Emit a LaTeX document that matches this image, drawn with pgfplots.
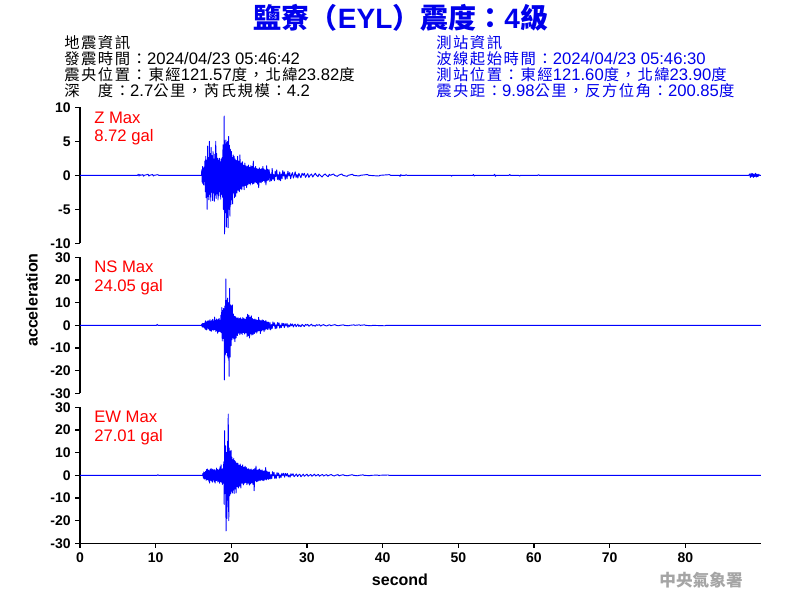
\documentclass[border=0pt]{standalone}
\usepackage{fontspec}
\setmainfont{Liberation Sans}
\newfontfamily\cjk{Noto Sans CJK TC}
\newfontfamily\cjkh[LetterSpace=10]{Noto Sans CJK TC}
\newcommand{\cj}[1]{{\cjkh\fontsize{11.5}{11.5}\selectfont #1}}
\usepackage{pgfplots}
\pgfplotsset{compat=1.18}
\definecolor{trace}{RGB}{0,0,255}
\definecolor{lab}{RGB}{255,0,0}
\definecolor{ttl}{RGB}{0,0,235}
\definecolor{wm}{RGB}{165,165,165}
\pgfplotsset{
  seis/.style={
    scale only axis, width=510.75pt, height=102pt,
    xmin=0, xmax=90,
    axis y line*=left,
    tick align=outside,
    major tick length=3.5pt,
    every tick/.style={black, line width=1pt},
    axis line style={black, line width=1.2pt},
    tick label style={font=\bfseries\fontsize{10.5}{10.5}\selectfont},
    clip=true,
  },
  tr/.style={trace, line width=0.7pt, line join=round},
}
\begin{document}
\begin{tikzpicture}
\path[use as bounding box] (0,0) rectangle (600pt,450pt);

% ---------- Z ----------
\begin{axis}[seis, at={(60pt,267.5pt)}, anchor=south west,
  axis x line=none, xtick=\empty,
  ymin=-10, ymax=10, ytick={-10,-5,0,5,10}, yticklabels={-10,-5,0,5,10}]
\addplot[tr] coordinates {
(0,0) (7.6,0) (7.7,0.15) (7.8,-0.1) (7.9,0.12) (8.0,0) (8.3,0.1) (8.4,-0.12) (8.5,0)
(9.0,0.15) (9.1,-0.1) (9.2,0) (9.6,0.12) (9.7,-0.1) (9.8,0) (10.3,0.1) (10.4,0) (16.05,0)
(16.10,0.8) (16.15,-1.0) (16.20,1.3) (16.25,-1.2) (16.30,1.0) (16.35,-1.4) (16.40,1.2) (16.45,-0.9)
(16.50,2.1) (16.56,-2.4) (16.62,2.8) (16.68,-3.3) (16.74,2.2) (16.80,-5.0) (16.86,4.3) (16.92,-3.1)
(16.98,2.6) (17.04,-3.6) (17.10,5.0) (17.16,-2.8) (17.22,3.2) (17.28,-3.8) (17.34,4.1) (17.40,-2.5)
(17.46,2.9) (17.52,-3.7) (17.58,3.5) (17.64,-2.6) (17.70,2.4) (17.76,-3.8) (17.82,3.1) (17.88,-2.9)
(17.94,5.0) (18.00,-3.4) (18.06,3.2) (18.12,-2.7) (18.18,2.5) (18.24,-3.6) (18.30,2.2) (18.36,-3.0)
(18.42,2.5) (18.48,-2.4) (18.54,2.0) (18.60,-3.5) (18.66,2.4) (18.72,-2.8) (18.78,2.6) (18.84,-3.2)
(18.90,4.5) (18.96,-5.0) (19.02,3.0) (19.06,8.72) (19.10,-8.6) (19.16,4.6) (19.22,-5.5) (19.28,5.2)
(19.34,-7.6) (19.40,4.8) (19.46,-6.2) (19.52,5.0) (19.58,-7.7) (19.64,5.7) (19.70,-5.0) (19.76,4.4)
(19.82,-6.0) (19.88,3.8) (19.94,-4.3) (20.00,3.5) (20.06,-3.6) (20.12,2.6) (20.18,-4.2) (20.24,3.0)
(20.30,-2.5) (20.36,2.8) (20.42,-3.3) (20.50,2.4) (20.58,-3.1) (20.66,2.2) (20.74,-2.6) (20.82,2.8)
(20.90,-2.2) (20.98,2.1) (21.06,-2.4) (21.14,3.0) (21.22,-2.0) (21.30,1.8) (21.38,-2.1) (21.46,2.0)
(21.54,-1.6) (21.62,1.5) (21.70,-2.1) (21.78,1.8) (21.86,-1.5) (21.94,1.4) (22.02,-1.8) (22.10,1.3)
(22.18,-1.4) (22.26,1.5) (22.34,-1.2) (22.42,1.2) (22.50,-1.4) (22.58,1.4) (22.66,-1.1) (22.74,1.3)
(22.82,-1.3) (22.90,2.1) (22.98,-1.2) (23.06,1.1) (23.14,-1.0) (23.22,1.3) (23.30,-1.1) (23.38,1.0)
(23.46,-1.3) (23.54,0.9) (23.62,-1.8) (23.70,1.1) (23.78,-1.0) (23.86,0.9) (23.94,-1.1) (24.02,1.0)
(24.10,-0.9) (24.18,1.3) (24.26,-0.8) (24.34,0.9) (24.42,-1.0) (24.50,0.8) (24.58,-1.4) (24.66,1.4)
(24.74,-0.8) (24.82,0.9) (24.90,-0.7) (25.00,0.8) (25.10,-0.9) (25.20,0.2) (25.30,-0.8) (25.40,1.0)
(25.50,-0.6) (25.60,0.1) (25.70,-0.8) (25.80,0.6) (25.90,-0.2) (26.00,0.8) (26.10,-0.6) (26.20,0.1)
(26.30,-0.7) (26.40,0.5) (26.50,-0.8) (26.60,0.2) (26.70,-0.5) (26.80,0.7) (26.90,-0.1) (27.00,0.5)
(27.12,-0.6) (27.24,0.2) (27.36,-0.5) (27.48,0.6) (27.60,-0.1) (27.72,0.4) (27.84,-0.5) (27.96,0.1)
(28.08,0.4) (28.20,-0.4) (28.32,0) (28.44,0.5) (28.56,-0.3) (28.68,0.1) (28.80,-0.4) (28.92,0.3)
(29.04,0) (29.20,-0.35) (29.35,0.3) (29.50,0) (29.65,0.3) (29.80,-0.3) (29.95,0) (30.10,0.25)
(30.25,-0.3) (30.40,0) (30.60,0.2) (30.75,-0.25) (30.90,0) (31.10,0.3) (31.25,0) (31.45,-0.2)
(31.60,0.2) (31.75,0) (32.00,-0.25) (32.15,0) (32.40,0.2) (32.55,0) (32.80,-0.2) (32.95,0.15)
(33.10,0) (33.50,0.2) (33.65,0) (34.00,-0.15) (34.15,0) (34.60,0.2) (34.75,0) (35.30,-0.15)
(35.45,0) (36.00,0.15) (36.15,0) (36.90,-0.1) (37.05,0) (38.00,0.12) (38.15,0) (39.50,-0.1)
(39.65,0) (40.90,0.1) (41.05,0) (42.2,0) (42.3,-0.15) (42.4,0.1) (42.5,0) (43.0,0) (43.1,0.1) (43.2,0)
(49.0,0) (49.1,-0.12) (49.2,0) (51.9,0) (52.0,0.12) (52.1,-0.1) (52.2,0)
(54.7,0) (54.8,0.15) (54.9,-0.15) (55.0,0) (56.7,0) (56.8,0.12) (56.9,0) (58.0,0) (58.1,-0.1) (58.2,0)
(60.5,0) (60.6,0.1) (60.7,0) (88.4,0) (88.5,0.2) (88.6,-0.3) (88.7,0.3) (88.8,-0.2) (88.9,0.25)
(89.0,-0.3) (89.1,0.2) (89.2,-0.2) (89.3,0.3) (89.4,-0.25) (89.5,0.15) (89.6,-0.2) (89.7,0.15) (89.8,0) (90,0)
};
\end{axis}

% ---------- NS ----------
\begin{axis}[seis, at={(60pt,155pt)}, anchor=south west,
  axis x line=none, xtick=\empty,
  ymin=-30, ymax=30, ytick={-30,-20,-10,0,10,20,30}, yticklabels={-30,-20,-10,0,10,20,30}]
\addplot[tr] coordinates {
(0,0) (10.1,0) (10.2,0.4) (10.3,0) (16.05,0)
(16.10,0.6) (16.16,-0.8) (16.22,0.9) (16.28,-0.7) (16.34,0.8) (16.40,-0.9) (16.46,1.0) (16.52,-1.6)
(16.58,2.0) (16.64,-1.9) (16.70,1.5) (16.76,-2.0) (16.82,1.8) (16.88,-1.2) (16.94,2.0) (17.00,-1.6)
(17.06,1.9) (17.12,-2.1) (17.18,2.5) (17.24,-2.4) (17.30,1.8) (17.36,-2.6) (17.42,2.2) (17.48,-1.8)
(17.54,2.6) (17.60,-2.2) (17.66,1.9) (17.72,-2.0) (17.78,3.6) (17.84,-1.9) (17.90,2.1) (17.96,-2.7)
(18.02,2.8) (18.08,-2.3) (18.14,2.3) (18.20,-3.5) (18.26,2.6) (18.32,-2.8) (18.38,3.0) (18.44,-2.6)
(18.50,2.2) (18.56,-2.9) (18.62,4.5) (18.68,-3.2) (18.74,7.8) (18.80,-6.9) (18.86,6.5) (18.92,-5.8)
(18.98,7.4) (19.04,-7.0) (19.07,3.0) (19.09,-24.05) (19.14,8.5) (19.20,-13) (19.28,20.5) (19.34,-12)
(19.40,11) (19.46,-13.5) (19.52,12) (19.58,-14.4) (19.64,10) (19.70,-22.5) (19.78,16.3) (19.84,-14)
(19.90,9) (19.96,-9) (20.02,8.5) (20.08,-6.3) (20.14,9) (20.20,-5.5) (20.26,5) (20.32,-6)
(20.40,4) (20.48,-7.2) (20.56,3.8) (20.64,-5.5) (20.72,3.2) (20.80,-4.5) (20.88,3.4) (20.96,-3.5)
(21.04,3.0) (21.12,-4.1) (21.20,3.3) (21.28,-3.5) (21.36,2.8) (21.44,-4.0) (21.52,3.4) (21.60,-3.2)
(21.68,3.0) (21.76,-3.8) (21.84,2.6) (21.92,-3.3) (22.00,3.6) (22.08,-5.0) (22.16,4.9) (22.24,-4.5)
(22.32,4.4) (22.40,-5.6) (22.48,3.6) (22.56,-3.8) (22.64,4.2) (22.72,-4.3) (22.80,3.0) (22.88,-4.0)
(22.96,2.5) (23.04,-3.6) (23.12,2.8) (23.20,-3.0) (23.28,2.5) (23.36,-3.4) (23.44,2.2) (23.52,-2.6)
(23.60,3.5) (23.68,-2.4) (23.76,2.3) (23.84,-3.6) (23.92,2.0) (24.00,-2.5) (24.08,2.4) (24.16,-2.0)
(24.24,2.2) (24.32,-2.8) (24.40,1.8) (24.48,-2.0) (24.56,2.1) (24.64,-1.6) (24.72,1.5) (24.80,-1.8)
(24.90,1.4) (25.00,-1.7) (25.10,1.3) (25.20,-2.0) (25.30,0.3) (25.40,-1.4) (25.50,1.5) (25.60,-0.2)
(25.70,1.1) (25.80,-1.5) (25.90,0.2) (26.00,-1.3) (26.10,1.2) (26.20,-0.2) (26.30,1.1) (26.40,-1.2)
(26.50,0.1) (26.60,-1.0) (26.70,1.0) (26.80,-0.2) (26.90,0.8) (27.00,-1.0) (27.12,0.7) (27.24,-0.3)
(27.36,0.8) (27.48,-0.9) (27.60,0.2) (27.72,-0.6) (27.84,0.7) (27.96,-0.2) (28.08,0.6) (28.20,-0.7)
(28.32,0.1) (28.44,0.5) (28.56,-0.6) (28.68,0) (28.80,0.5) (28.92,-0.5) (29.05,0.1) (29.20,-0.6)
(29.35,0.4) (29.50,0) (29.65,-0.5) (29.80,0.4) (29.95,0) (30.10,0.4) (30.25,-0.4) (30.40,0)
(30.60,0.5) (30.75,-0.3) (30.90,0) (31.10,-0.4) (31.25,0.3) (31.40,0) (31.65,0.3) (31.80,-0.35)
(31.95,0) (32.20,0.3) (32.35,0) (32.60,-0.3) (32.75,0) (33.00,0.25) (33.15,-0.2) (33.30,0)
(33.70,0.3) (33.85,0) (34.20,-0.2) (34.35,0) (34.80,0.2) (34.95,0) (35.50,-0.2) (35.65,0)
(36.20,0.2) (36.35,0) (36.90,0.2) (37.05,0) (37.6,0.2) (37.75,0) (38.5,-0.2) (38.65,0)
(40.3,-0.2) (40.45,0) (90,0)
};
\end{axis}

% ---------- EW ----------
\begin{axis}[seis, at={(60pt,42.5pt)}, anchor=south west,
  axis x line*=bottom,
  xtick={0,10,20,30,40,50,60,70,80}, xticklabels={0,10,20,30,40,50,60,70,80},
  ymin=-30, ymax=30, ytick={-30,-20,-10,0,10,20,30}, yticklabels={-30,-20,-10,0,10,20,30}]
\addplot[tr] coordinates {
(0,0) (10.2,0) (10.3,0.3) (10.4,0) (16.2,0)
(16.25,0.8) (16.30,-1.2) (16.36,1.5) (16.42,-1.7) (16.48,1.2) (16.54,-1.4) (16.60,1.8) (16.66,-2.2)
(16.72,2.5) (16.78,-1.8) (16.84,2.8) (16.90,-2.0) (16.96,2.3) (17.02,-2.6) (17.08,2.0) (17.14,-3.4)
(17.20,2.6) (17.26,-2.2) (17.32,3.0) (17.38,-2.5) (17.44,2.4) (17.50,-3.0) (17.56,2.7) (17.62,-2.0)
(17.68,2.2) (17.74,-2.8) (17.80,2.5) (17.86,-3.4) (17.92,2.0) (17.98,-2.4) (18.04,3.2) (18.10,-2.2)
(18.16,2.6) (18.22,-3.0) (18.28,2.2) (18.34,-2.6) (18.40,2.8) (18.46,-3.5) (18.52,3.8) (18.58,-2.8)
(18.64,4.6) (18.70,-3.0) (18.76,2.6) (18.82,-4.0) (18.88,3.0) (18.94,-3.5) (19.00,6.0) (19.06,-12.8)
(19.12,19.7) (19.18,-8) (19.24,13) (19.30,-24.5) (19.36,10) (19.42,-19) (19.50,15) (19.55,-11)
(19.59,27.01) (19.66,-20) (19.72,12) (19.78,-9) (19.84,10.6) (19.90,-8.2) (19.96,11) (20.02,-7)
(20.08,8) (20.14,-7.8) (20.20,6.9) (20.26,-6.5) (20.32,7.5) (20.38,-8) (20.44,6.5) (20.50,-6)
(20.56,6.0) (20.62,-7.8) (20.70,5.3) (20.78,-5) (20.86,5.4) (20.94,-5.6) (21.02,4.5) (21.10,-4.8)
(21.18,5.0) (21.26,-5.6) (21.34,4.0) (21.42,-3.5) (21.50,4.6) (21.58,-4.2) (21.66,3.6) (21.74,-3.5)
(21.82,4.0) (21.90,-3.2) (21.98,3.4) (22.06,-4.1) (22.14,2.8) (22.22,-3.5) (22.30,3.0) (22.38,-4.3)
(22.46,2.5) (22.54,-3.8) (22.62,2.8) (22.70,-3.2) (22.78,2.4) (22.86,-4.0) (22.94,2.6) (23.02,-6.8)
(23.10,3.0) (23.18,-2.5) (23.26,4.1) (23.34,-2.8) (23.42,2.3) (23.50,-2.6) (23.58,2.5) (23.66,-2.2)
(23.74,2.8) (23.82,-2.4) (23.90,2.2) (23.98,-2.0) (24.06,2.4) (24.14,-2.2) (24.22,1.9) (24.30,-2.4)
(24.38,2.0) (24.46,-1.8) (24.54,3.4) (24.62,-2.0) (24.70,1.8) (24.78,-1.6) (24.86,1.5) (24.94,-1.8)
(25.04,1.4) (25.14,-1.6) (25.24,0.3) (25.34,-1.5) (25.44,1.6) (25.54,-0.2) (25.64,1.3) (25.74,-1.4)
(25.84,0.2) (25.94,-1.3) (26.04,1.2) (26.14,-0.1) (26.24,1.0) (26.34,-1.2) (26.44,0.2) (26.56,-1.0)
(26.68,0.9) (26.80,-0.1) (26.92,0.9) (27.04,-0.8) (27.16,0.8) (27.28,-0.2) (27.40,0.8) (27.52,-0.7)
(27.64,0.1) (27.76,-0.8) (27.88,0.7) (28.00,-0.1) (28.15,0.7) (28.30,-0.6) (28.45,0) (28.60,0.6)
(28.75,-0.5) (28.90,0.1) (29.05,0.5) (29.20,-0.6) (29.35,0) (29.50,0.5) (29.65,-0.4) (29.80,0)
(30.00,0.5) (30.15,-0.4) (30.30,0) (30.50,0.4) (30.65,-0.4) (30.80,0) (31.00,0.5) (31.15,-0.3)
(31.30,0) (31.50,0.4) (31.65,-0.4) (31.80,0) (32.05,0.4) (32.20,-0.3) (32.35,0) (32.60,0.3)
(32.75,-0.3) (32.90,0) (33.20,0.35) (33.35,0) (33.60,-0.3) (33.75,0) (34.10,0.3) (34.25,-0.25)
(34.40,0) (34.80,0.25) (34.95,0) (35.40,-0.2) (35.55,0) (36.00,0.25) (36.15,0) (36.70,-0.2)
(36.85,0) (37.40,0.2) (37.55,0) (38.30,-0.15) (38.45,0) (39.30,0.1) (39.45,0) (40.7,0.15) (40.85,0) (90,0)
};
\end{axis}

% ---------- texts ----------
\node[font=\bfseries\fontsize{21}{21}\selectfont, text=ttl] at (300.75pt,436.5pt)
  {{\cjk\bfseries 鹽寮（}EYL{\cjk\bfseries ）震度：}4{\cjk\bfseries 級}};

\begin{scope}[every node/.style={anchor=base west, inner sep=0pt, font=\fontsize{12.5}{12.5}\selectfont}]
\node at (48pt,413.5pt) {\cj{地震資訊}};
\node at (48pt,401.5pt) {\cj{發震時間：}2024/04/23 05:46:42};
\node at (48pt,389.5pt) {\cj{震央位置：東經}121.57\cj{度，北緯}23.82\cj{度}};
\node at (48pt,377.5pt) {\cj{深　度：}2.7\cj{公里，芮氏規模：}4.2};
\node[text=ttl] at (327pt,413.5pt) {\cj{測站資訊}};
\node[text=ttl] at (327pt,401.5pt) {\cj{波線起始時間：}2024/04/23 05:46:30};
\node[text=ttl] at (327pt,389.5pt) {\cj{測站位置：東經}121.60\cj{度，北緯}23.90\cj{度}};
\node[text=ttl] at (327pt,377.5pt) {\cj{震央距：}9.98\cj{公里，反方位角：}200.85\cj{度}};
\end{scope}

\begin{scope}[every node/.style={anchor=west, inner sep=0pt, text=lab, font=\fontsize{12.5}{12.5}\selectfont}]
\node at (70.5pt,361.5pt) {Z Max};
\node at (70.5pt,347.25pt) {8.72 gal};
\node at (70.5pt,249.75pt) {NS Max};
\node at (70.5pt,234.75pt) {24.05 gal};
\node at (70.5pt,137.25pt) {EW Max};
\node at (70.5pt,122.25pt) {27.01 gal};
\end{scope}

\node[rotate=90, font=\bfseries\fontsize{12}{12}\selectfont] at (24pt,225pt) {acceleration};
\node[font=\bfseries\fontsize{12}{12}\selectfont] at (300pt,15pt) {second};
\node[text=wm, font=\cjk\bfseries\fontsize{12.5}{12.5}\selectfont] at (525.75pt,15pt) {中央氣象署};
\end{tikzpicture}
\end{document}
